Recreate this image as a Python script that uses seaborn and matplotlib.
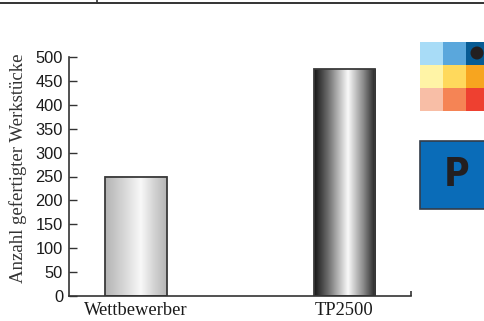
import numpy as np
import matplotlib
matplotlib.use("Agg")
import matplotlib.pyplot as plt
from matplotlib.colors import LinearSegmentedColormap
from matplotlib.lines import Line2D
from matplotlib.patches import Rectangle, Ellipse
import seaborn as sns

categories = ["Wettbewerber", "TP2500"]
values = [250, 475]
y_ticks = [0, 50, 100, 150, 200, 250, 300, 350, 400, 450, 500]
y_label = "Anzahl gefertigter Werkstücke"

sns.set_style("ticks")
plt.rcParams["font.family"] = ["Liberation Sans", "DejaVu Sans"]

fig = plt.figure(figsize=(4.85, 3.21), dpi=100)
ax = fig.add_axes([69 / 485, 1 - 296 / 321, 342 / 485, 239 / 321])

sns.barplot(x=categories, y=values, ax=ax, width=0.297, color="white",
            edgecolor="#3a3a3a", linewidth=1.3, saturation=1)

# metallic gradients for the bars
light = LinearSegmentedColormap.from_list(
    "light", [(0, "#b3b3b3"), (0.3, "#d6d6d6"), (0.58, "#f8f8f8"), (0.8, "#d2d2d2"), (1, "#b5b5b5")])
dark = LinearSegmentedColormap.from_list(
    "dark", [(0, "#161616"), (0.22, "#6a6a6a"), (0.55, "#fafafa"), (0.8, "#8a8a8a"), (1, "#222222")])
grad = np.linspace(0, 1, 256).reshape(1, -1)
for patch, cmap in zip(ax.patches, [light, dark]):
    x0, y0 = patch.get_x(), patch.get_y()
    w, h = patch.get_width(), patch.get_height()
    im = ax.imshow(grad, cmap=cmap, aspect="auto", extent=[x0, x0 + w, y0, y0 + h],
                   zorder=patch.get_zorder() - 0.1, interpolation="bilinear")
    im.set_clip_path(patch)
    patch.set_facecolor("none")

ax.set_xlim(-0.321, 1.319)
ax.set_ylim(0, 500)
ax.set_yticks(y_ticks)
ax.tick_params(axis="y", direction="in", length=6, width=1.0, color="#333333",
               labelsize=11.8, pad=4.3, labelcolor="#1a1a1a")
ax.tick_params(axis="x", length=0, pad=4.5, labelcolor="#1a1a1a")
for lbl in ax.get_xticklabels():
    lbl.set_fontfamily("Liberation Serif")
    lbl.set_fontsize(13.3)
ax.set_xlabel("")
ax.set_ylabel(y_label, family="Liberation Serif", fontsize=13.5, color="#333333")
ax.yaxis.set_label_coords(-0.123, 0.533)
sns.despine(ax=ax)
for s in ["left", "bottom"]:
    ax.spines[s].set_color("#333333")
    ax.spines[s].set_linewidth(1.2)
ax.plot([1, 1], [0, 0.022], transform=ax.transAxes, color="#333333", lw=1.2,
        clip_on=False, solid_capstyle="butt")

# page rule at the top
fig.add_artist(Line2D([0, 1], [1 - 2.5 / 321, 1 - 2.5 / 321], color="#333333", lw=1.4))
fig.add_artist(Line2D([97 / 485, 97 / 485], [1 - 2.5 / 321, 1], color="#333333", lw=1.2))

# decorative colour grid on the right margin
grid_colors = [["#a8dcf7", "#5aa7dc", "#075b94"],
               ["#fff4a6", "#ffd95c", "#f7a51f"],
               ["#f8bea6", "#f58455", "#ee4030"]]
cw, ch = 23 / 485, 23 / 321
for r, row in enumerate(grid_colors):
    for c, col in enumerate(row):
        fig.add_artist(Rectangle((420 / 485 + c * cw, 1 - (42 + (r + 1) * 23) / 321), cw, ch,
                                 transform=fig.transFigure, facecolor=col, edgecolor="none"))
fig.add_artist(Ellipse((477 / 485, 1 - 53 / 321), 13 / 485, 13 / 321, transform=fig.transFigure,
                       facecolor="#231f20", edgecolor="none"))

# blue "P" box
fig.add_artist(Rectangle((420 / 485, 1 - 209 / 321), 70 / 485, 68 / 321, transform=fig.transFigure,
                         facecolor="#0a6cb8", edgecolor="#333d4a", lw=1.2))
fig.text(457 / 485, 1 - 175 / 321, "P", family="DejaVu Sans", weight="bold", fontsize=28,
         color="#231f20", ha="center", va="center", stretch="condensed")

fig.savefig("out.png", dpi=100)
